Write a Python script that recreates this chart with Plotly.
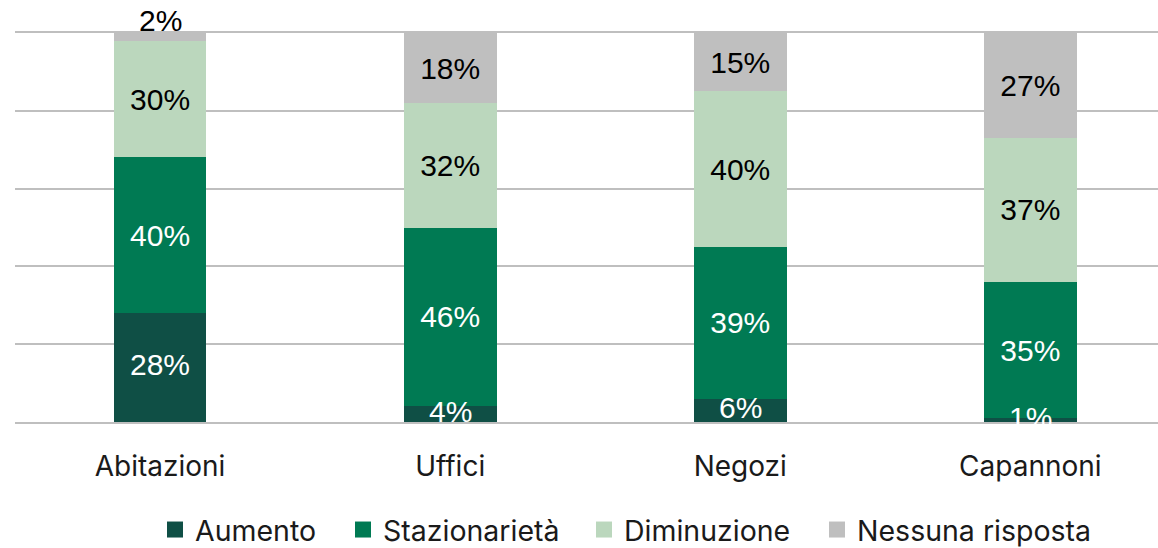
import plotly.graph_objs as go

# dati
categorie = ["Abitazioni", "Uffici", "Negozi", "Capannoni"]
aumento = [28, 4, 6, 1]
stazionarieta = [40, 46, 39, 35]
diminuzione = [30, 32, 40, 37]
nessuna_risposta = [2, 18, 15, 27]

serie = [
    ("Aumento", aumento, "#0f4f45", "white"),
    ("Stazionarietà", stazionarieta, "#007a53", "white"),
    ("Diminuzione", diminuzione, "#bbd7bd", "black"),
    ("Nessuna risposta", nessuna_risposta, "#bfbfbf", "black"),
]
# posizione (pixel nella pagina) del quadratino di ogni voce di legenda
legend_px = [155, 343, 584, 817]

FONT_LAB = "Liberation Sans, Arial"
SIZE_LAB = 30

data = []
annotations = []
layout_legends = {}
base = [0] * len(categorie)
for k, (nome, valori, colore, col_testo) in enumerate(serie):
    testi = []
    for i, v in enumerate(valori):
        #! etichette piccole / esterne -> annotazioni sopra tutte le barre
        if k == 0:
            testi.append("")
            annotations.append(dict(x=categorie[i], y=base[i] + v / 2, text=f"{v}%",
                                    showarrow=False, yshift=3,
                                    font=dict(family=FONT_LAB, size=SIZE_LAB, color=col_testo)))
        elif k == len(serie) - 1 and v < 5:
            testi.append("")
            annotations.append(dict(x=categorie[i], y=base[i] + v, text=f"{v}%",
                                    showarrow=False, yanchor="bottom", yshift=-6,
                                    font=dict(family=FONT_LAB, size=SIZE_LAB, color="black")))
        else:
            testi.append(f"{v}%")
    trace = go.Bar(x=categorie,
                   y=valori,
                   name=nome,
                   showlegend=False,
                   text=testi,
                   textposition="inside",
                   insidetextanchor="middle",
                   textangle=0,
                   constraintext="none",
                   cliponaxis=False,
                   textfont=dict(family=FONT_LAB, size=SIZE_LAB, color=col_testo),
                   marker=dict(color=colore, line=dict(width=0)),
                   )
    data.append(trace)
    base = [b + v for b, v in zip(base, valori)]
    #! voce di legenda con quadrato più grande
    leg = "legend" if k == 0 else f"legend{k + 1}"
    data.append(go.Scatter(x=[None], y=[None], mode="markers", name=nome, legend=leg,
                           marker=dict(symbol="square", size=18, color=colore)))
    layout_legends[leg] = dict(orientation="h", xref="container", x=legend_px[k] / 1158,
                               xanchor="left", yref="container", y=1 - 530 / 548,
                               yanchor="middle", font=dict(size=28.5),
                               bgcolor="rgba(0,0,0,0)")

layout = go.Layout(
    width=1158, height=548,
    barmode="stack",
    bargap=0.68,
    paper_bgcolor="white",
    plot_bgcolor="white",
    margin=dict(l=15, r=0, t=33, b=126),
    font=dict(family="Inter, Noto Sans", size=28, color="#1a1a1a"),
    xaxis=dict(range=[-0.5, 3.44], showgrid=False, showline=True, mirror=True,
               linecolor="#bfbfbf", linewidth=2, ticks="", tickfont=dict(size=28),
               ticklabelstandoff=18),
    yaxis=dict(range=[0, 100], dtick=20, showticklabels=False, showgrid=True,
               gridcolor="#bfbfbf", gridwidth=1.5, zeroline=False),
    annotations=annotations,
    showlegend=True,
    **layout_legends,
)

fig = go.Figure(data=data, layout=layout)
fig.write_html("out.html", config={"displayModeBar": False},
               post_script="document.body.style.margin='0';")
